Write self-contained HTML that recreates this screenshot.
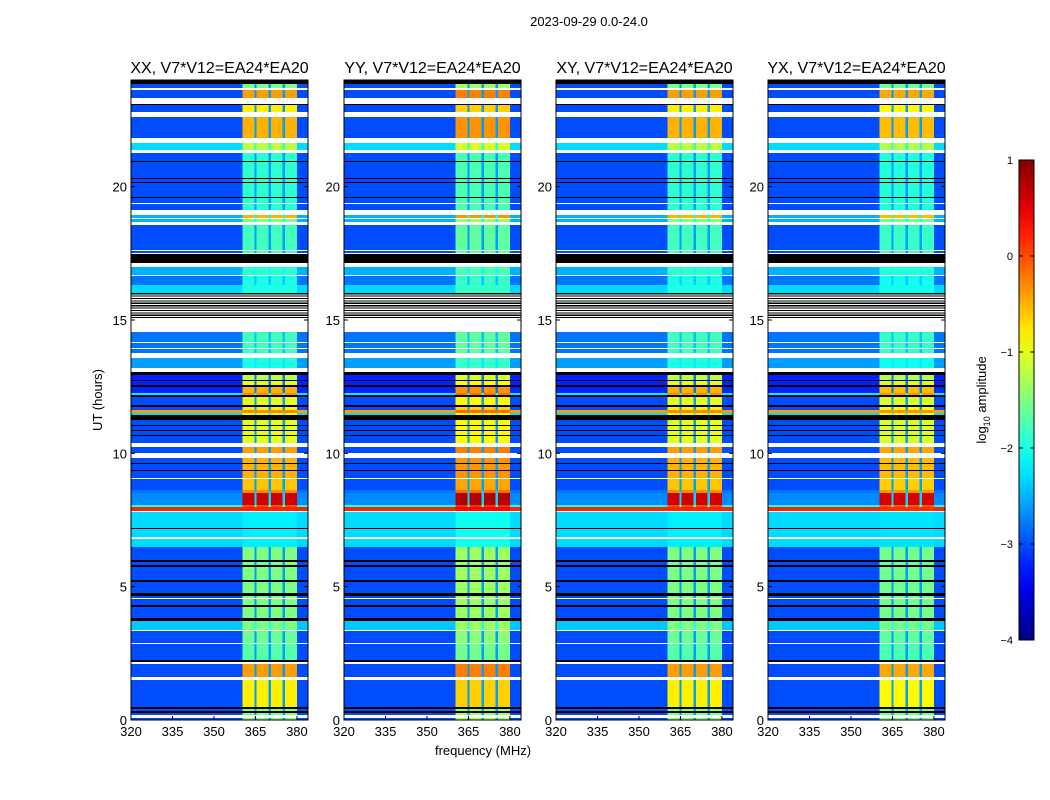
<!DOCTYPE html>
<html><head><meta charset="utf-8">
<style>
html,body{margin:0;padding:0;background:#fff;width:1050px;height:800px;overflow:hidden}
svg{display:block;font-family:"Liberation Sans",sans-serif}
</style></head>
<body>
<svg id="chart" width="1050" height="800" xmlns="http://www.w3.org/2000/svg">
<text x="589" y="26" font-size="13" text-anchor="middle">2023-09-29 0.0-24.0</text>
<text x="483" y="755" font-size="13" text-anchor="middle">frequency (MHz)</text>
<text x="0" y="0" font-size="13" text-anchor="middle" transform="translate(102,400) rotate(-90)">UT (hours)</text>
<g id="panels"></g>
<g id="cbar"></g>
</svg>
<script>
const panelTitles = ["XX, V7*V12=EA24*EA20","YY, V7*V12=EA24*EA20","XY, V7*V12=EA24*EA20","YX, V7*V12=EA24*EA20"];
const panelBandOffset = [0, 0.15, 0, -0.05];
const xTicks = [320,335,350,365,380];
const yTicks = [0,5,10,15,20];
const cbarTicks = [1,0,-1,-2,-3,-4];
const cbarLabels = ["1","0","\u22121","\u22122","\u22123","\u22124"];
const subBands = [[360.4,364.6],[365.4,369.8],[370.6,374.8],[375.6,380]];
// time segments: [top hour, type, background log10 amp, band log10 amp]
const segs = [
[24.00,'k'],[23.85,'n',-3.0,-1.5],[23.70,'w'],[23.625,'n',-3.0,-0.4],[23.325,'w'],[23.10,'k'],
[23.06,'n',-3.0,-0.8],[22.80,'w'],[22.61,'n',-3.0,-0.5],[21.825,'w'],[21.64,'n',-2.3,-1.2],[21.375,'w'],
[21.26,'n',-3.0,-1.9],[20.96,'k'],[20.925,'n',-3.0,-1.9],[20.325,'k'],[20.29,'n',-3.0,-1.9],[20.175,'k'],
[20.14,'n',-3.0,-1.9],[19.61,'k'],[19.575,'n',-3.0,-1.9],[19.39,'w'],[19.35,'n',-3.0,-1.9],[19.125,'w'],
[18.94,'n',-2.5,-0.5],[18.825,'w'],[18.79,'n',-2.5,-1.5],[18.675,'w'],[18.56,'n',-3.0,-1.8],[17.625,'w'],
[17.59,'n',-3.0,-1.8],[17.51,'w'],[17.475,'k'],[17.14,'w'],[16.99,'n',-2.5,-1.9],[16.69,'w'],
[16.65,'n',-2.8,-2.0],[16.31,'n',-2.3,-2.0],[16.01,'z'],[15.075,'w'],[14.55,'n',-2.8,-1.8],[14.175,'w'],
[14.14,'n',-2.8,-1.8],[13.95,'w'],[13.91,'n',-2.8,-1.8],[13.76,'w'],[13.575,'n',-2.6,-2.0],[13.20,'w'],
[13.05,'k'],[12.94,'n',-3.2,-1.2],[12.75,'k'],[12.71,'n',-3.2,-1.0],[12.56,'k'],[12.49,'n',-3.2,-0.5],
[12.26,'n',-2.2,-0.3],[12.19,'k'],[12.11,'n',-3.0,-1.0],[11.81,'k'],[11.74,'n',-3.0,-0.8],[11.625,'n',-0.4,-0.3],
[11.51,'n',-2.3,-1.0],[11.44,'k'],[11.25,'n',-3.0,-1.0],[11.06,'k'],[11.025,'n',-3.0,-1.0],[10.875,'k'],
[10.84,'n',-3.0,-1.0],[10.69,'k'],[10.65,'n',-3.0,-1.0],[10.39,'w'],[10.24,'n',-3.0,-0.4],[10.01,'w'],
[9.825,'n',-3.0,-0.5],[9.64,'k'],[9.60,'n',-3.0,-0.5],[9.375,'k'],[9.34,'n',-3.0,-0.5],[9.075,'w'],
[9.04,'n',-3.0,-0.6],[8.625,'n',-2.8,-0.3],[8.51,'n',-2.7,0.6],[8.06,'n',-2.0,0.0],[7.99,'n',0.2,0.2],
[7.84,'w'],[7.80,'n',-2.3,-2.2],[7.20,'k'],[7.16,'n',-2.3,-2.2],[6.86,'w'],[6.79,'n',-2.3,-2.2],
[6.49,'n',-3.0,-1.5],[6.00,'k'],[5.925,'n',-3.0,-1.5],[5.81,'k'],[5.74,'n',-3.0,-1.5],[5.25,'k'],
[5.175,'n',-3.0,-1.5],[4.76,'k'],[4.65,'n',-3.0,-1.5],[4.575,'w'],[4.54,'n',-3.0,-1.5],[4.31,'k'],
[4.24,'n',-3.0,-1.5],[3.825,'k'],[3.71,'n',-2.4,-1.5],[3.375,'w'],[3.34,'n',-3.0,-1.6],[2.89,'w'],
[2.85,'n',-3.0,-1.7],[2.25,'k'],[2.175,'w'],[2.10,'n',-3.0,-0.4],[1.61,'w'],[1.50,'n',-3.0,-0.8],
[0.49,'k'],[0.41,'n',-3.0,-1.5],[0.34,'k'],[0.26,'n',-3.0,-1.5],[0.19,'w'],[0.075,'n',-3.0,-1.5]
];

const NS = "http://www.w3.org/2000/svg";
const panelLeft = [131,344,556,768];
const PW = 177, PT = 80, PB = 720, FMIN = 320, FMAX = 384, HMAX = 24;
function jet(v){
  let t = Math.max(0, Math.min(1, (v + 4) / 5));
  const c = x => Math.round(255 * Math.max(0, Math.min(1, 1.5 - Math.abs(4 * t - x))));
  return `rgb(${c(3)},${c(2)},${c(1)})`;
}
function mk(tag, attrs, parent){
  const e = document.createElementNS(NS, tag);
  for (const k in attrs) e.setAttribute(k, attrs[k]);
  parent.appendChild(e);
  return e;
}
const root = document.getElementById('panels');
panelLeft.forEach((L, p) => {
  const xs = f => L + (f - FMIN) / (FMAX - FMIN) * PW;
  const ys = h => PB - h / HMAX * (PB - PT);
  const g = mk('g', {}, root);
  
  
  const hm = mk('g', {'shape-rendering':'crispEdges'}, g);
  
  
  segs.forEach((s, i) => {
    const top = s[0], bot = i + 1 < segs.length ? segs[i + 1][0] : 0;
    const y0 = ys(top), y1 = ys(bot);
    const type = s[1];
    if (type === 'w' || type === 'k') {
      const r = mk('rect', {x:L, y:y0, width:PW, height:y1 - y0, fill: type === 'w' ? '#fff' : '#000'}, hm);
      
      
    } else if (type === 'z') {
      mk('rect', {x:L, y:y0, width:PW, height:y1 - y0, fill:'#fff'}, hm);
      for (let h = top; h > bot; h -= 0.09) {
        const r = mk('rect', {x:L, y:ys(h), width:PW, height:1.2, fill:'#000'}, hm);
        
        
      }
    } else {
      const bg = s[2], band = s[3] + panelBandOffset[p];
      const r = mk('rect', {x:L, y:y0, width:PW, height:y1 - y0, fill:jet(bg)}, hm);
      
      
      const gapFill = jet(Math.min(bg + 0.4, band));
      mk('rect', {x:xs(subBands[0][0]), y:y0, width:xs(subBands[3][1]) - xs(subBands[0][0]), height:y1 - y0, fill:gapFill}, hm);
      subBands.forEach(b => {
        const br = mk('rect', {x:xs(b[0]), y:y0, width:xs(b[1]) - xs(b[0]), height:y1 - y0, fill:jet(band)}, hm);
        
        
      });
    }
  });
  const frame = mk('rect', {x:L, y:PT, width:PW, height:PB - PT, fill:'none', stroke:'#000', 'stroke-width':1}, g);
  
  
  const t = mk('text', {x:L + PW / 2, y:73, 'font-size':16, 'text-anchor':'middle'}, g);
  t.textContent = panelTitles[p];
  
  
  xTicks.forEach(f => {
    const x = xs(f);
    mk('line', {x1:x, x2:x, y1:PB, y2:PB - 4, stroke:'#000'}, g);
    mk('line', {x1:x, x2:x, y1:PT, y2:PT + 4, stroke:'#000'}, g);
    const lb = mk('text', {x:x, y:PB + 16, 'font-size':13, 'text-anchor':'middle'}, g);
    lb.textContent = f;
    
    
  });
  yTicks.forEach(h => {
    const y = ys(h);
    mk('line', {x1:L, x2:L + 4, y1:y, y2:y, stroke:'#000'}, g);
    mk('line', {x1:L + PW, x2:L + PW - 4, y1:y, y2:y, stroke:'#000'}, g);
    const lb = mk('text', {x:L - 4, y:y + 5, 'font-size':13, 'text-anchor':'end'}, g);
    lb.textContent = h;
    
    
  });
});
// colorbar
const cb = document.getElementById('cbar');
const CX = 1019, CW = 15, CT = 160, CB = 640, VMIN = -4, VMAX = 1;
const cys = v => CB - (v - VMIN) / (VMAX - VMIN) * (CB - CT);
const defs = mk('defs', {}, cb);
const grad = mk('linearGradient', {id:'jetg', x1:0, y1:1, x2:0, y2:0}, defs);
for (let i = 0; i <= 20; i++) {
  const v = VMIN + (VMAX - VMIN) * i / 20;
  mk('stop', {offset:(i / 20), 'stop-color':jet(v)}, grad);
}
const cr = mk('rect', {x:CX, y:CT, width:CW, height:CB - CT, fill:'url(#jetg)', stroke:'#000'}, cb);


cbarTicks.forEach((v, i) => {
  const y = cys(v);
  mk('line', {x1:CX, x2:CX + 4, y1:y, y2:y, stroke:'#000'}, cb);
  mk('line', {x1:CX + CW, x2:CX + CW - 4, y1:y, y2:y, stroke:'#000'}, cb);
  const lb = mk('text', {x:CX - 6, y:y + 4, 'font-size':11, 'text-anchor':'end'}, cb);
  lb.textContent = cbarLabels[i];
  
  
});
const cl = mk('text', {x:0, y:0, 'font-size':13, 'text-anchor':'middle', transform:'translate(986,400) rotate(-90)'}, cb);
cl.innerHTML = 'log<tspan font-size="9" dy="4">10</tspan><tspan dy="-4"> amplitude</tspan>';


</script>
</body></html>
